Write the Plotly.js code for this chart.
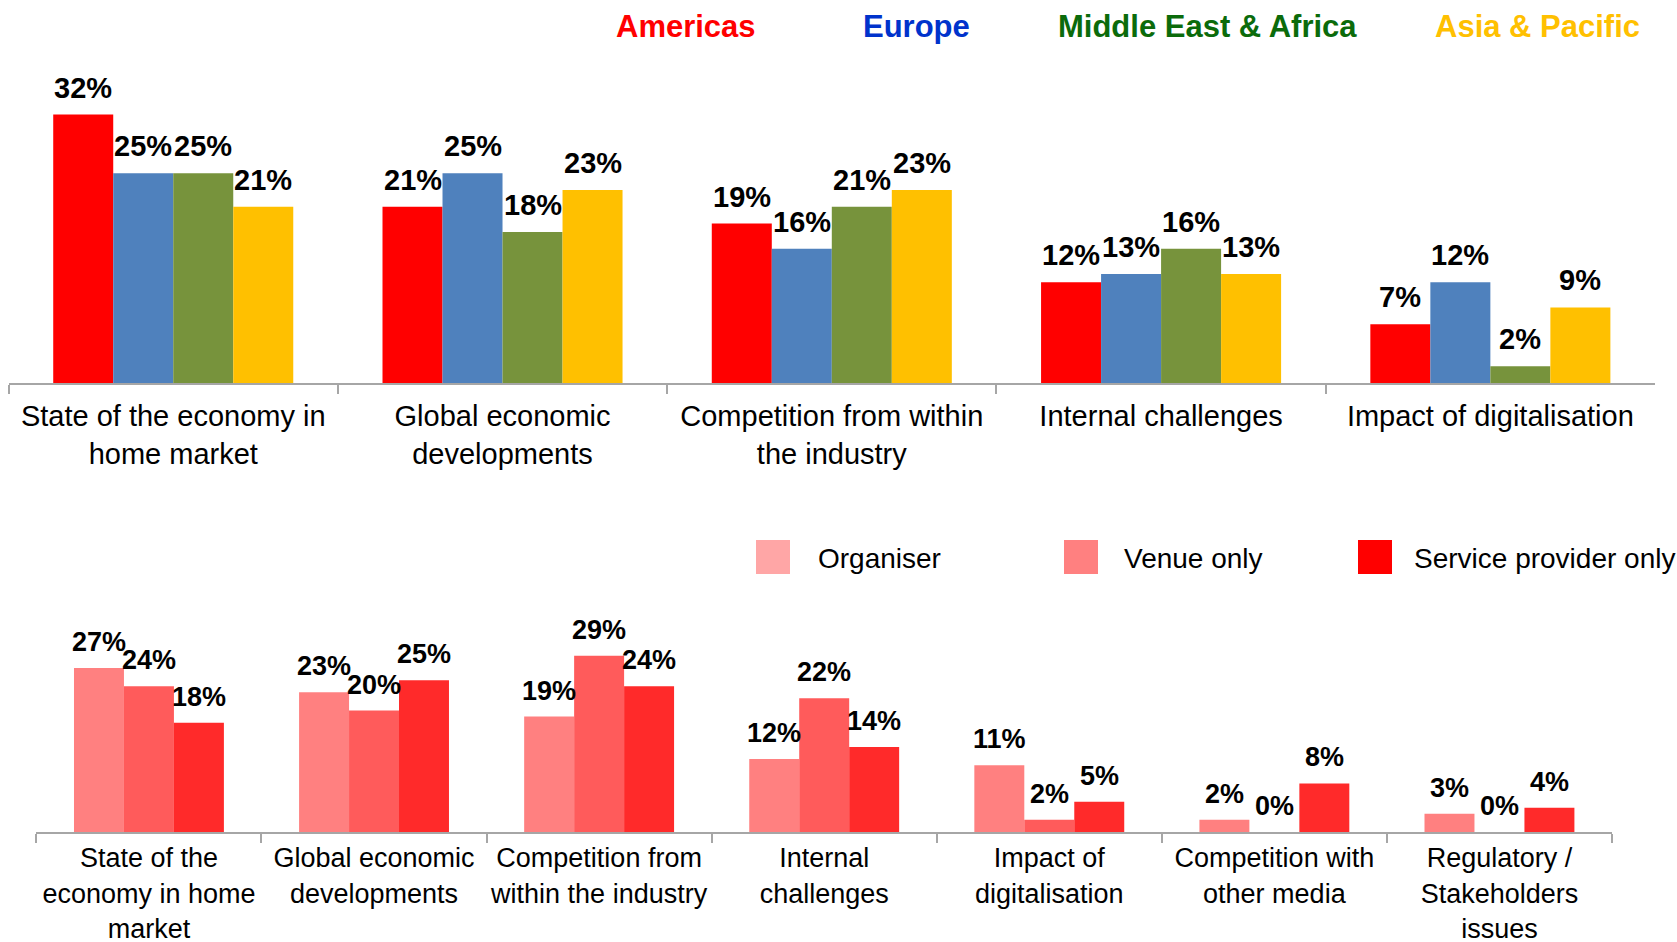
<!DOCTYPE html>
<html>
<head>
<meta charset="utf-8">
<script src="https://cdn.plot.ly/plotly-3.0.1.min.js"></script>
<style>
  html, body { margin: 0; padding: 0; background: #fff; }
  #grafico { width: 1677px; height: 942px; }
</style>
</head>
<body>
<div id="grafico"></div>
<script>
// ---------------------------------------------------------------------
// DATOS
// ---------------------------------------------------------------------
const categoriasRegion = [
  "State of the economy in<br>home market",
  "Global economic<br>developments",
  "Competition from within<br>the industry",
  "Internal challenges",
  "Impact of digitalisation",
];
const regiones = ["Americas", "Europe", "Middle East & Africa", "Asia & Pacific"];
const americas = [32, 21, 19, 12, 7];
const europa = [25, 25, 16, 13, 12];
const orienteMedio = [25, 18, 21, 16, 2];
const asiaPacifico = [21, 23, 23, 13, 9];

const categoriasTipo = [
  "State of the<br>economy in home<br>market",
  "Global economic<br>developments",
  "Competition from<br>within the industry",
  "Internal<br>challenges",
  "Impact of<br>digitalisation",
  "Competition with<br>other media",
  "Regulatory /<br>Stakeholders<br>issues",
];
const tipos = ["Organiser", "Venue only", "Service provider only"];
const organizador = [27, 23, 19, 12, 11, 2, 3];
const recinto = [24, 20, 29, 22, 2, 0, 0];
const proveedor = [18, 25, 24, 14, 5, 8, 4];

// ---------------------------------------------------------------------
// ESTILO
// ---------------------------------------------------------------------
const ANCHO = 1677, ALTO = 942;
const FUENTE = "Liberation Sans, Arial, sans-serif";
const coloresRegion = ["#FF0000", "#4F81BD", "#77933C", "#FFC000"];
const coloresTituloRegion = ["#FF0000", "#0033CC", "#0B6B0B", "#FFC000"];
const coloresTipo = ["#FF8080", "#FF5B5B", "#FF2A2A"];
const coloresLeyendaTipo = ["#FFA6A6", "#FF8080", "#FF0000"];
const GRIS = "#A6A6A6";

// fraccion de cada categoria ocupada por el grupo de barras
const grupoArriba = 0.729;
const grupoAbajo = 0.666;

function trazasAgrupadas(categorias, series, colores, fraccion, ejeX, ejeY) {
  const ancho = fraccion / series.length;
  return series.map((valores, i) => ({
    type: "bar",
    x: categorias,
    y: valores,
    xaxis: ejeX,
    yaxis: ejeY,
    width: ancho,
    offset: -fraccion / 2 + i * ancho,
    marker: { color: colores[i], line: { width: 0 } },
    showlegend: false,
    hoverinfo: "skip",
  }));
}

function etiquetasValores(series, fraccion, refX, refY, tam) {
  const ancho = fraccion / series.length;
  const notas = [];
  series.forEach((valores, i) => {
    valores.forEach((v, j) => {
      notas.push({
        xref: refX, yref: refY,
        x: j - fraccion / 2 + (i + 0.5) * ancho,
        y: v,
        text: v + "%",
        showarrow: false,
        yanchor: "bottom",
        yshift: 9,
        font: { family: FUENTE, size: tam, color: "#000", weight: "bold" },
      });
    });
  });
  return notas;
}

const seriesRegion = [americas, europa, orienteMedio, asiaPacifico];
const seriesTipo = [organizador, recinto, proveedor];

const trazas = [
  ...trazasAgrupadas(categoriasRegion, seriesRegion, coloresRegion, grupoArriba, "x", "y"),
  ...trazasAgrupadas(categoriasTipo, seriesTipo, coloresTipo, grupoAbajo, "x2", "y2"),
];

// titulos de region (leyenda superior, solo texto)
const posTitulos = [686, 916, 1207, 1537];
const titulos = regiones.map((r, i) => ({
  xref: "paper", yref: "paper",
  x: posTitulos[i] / ANCHO, y: 1 - 27 / ALTO,
  text: r, showarrow: false,
  xanchor: "center", yanchor: "middle",
  font: { family: FUENTE, size: 31, color: coloresTituloRegion[i], weight: "bold" },
}));

// leyenda inferior: cuadro de color + texto
const posCuadro = [756, 1064, 1358];
const posTexto = [816, 1122, 1412];
const cuadros = tipos.map((t, i) => ({
  type: "rect", xref: "paper", yref: "paper",
  x0: posCuadro[i] / ANCHO, x1: (posCuadro[i] + 34) / ANCHO,
  y0: 1 - 574 / ALTO, y1: 1 - 540 / ALTO,
  fillcolor: coloresLeyendaTipo[i], line: { width: 0 },
}));
const textosLeyenda = tipos.map((t, i) => ({
  xref: "paper", yref: "paper",
  x: posTexto[i] / ANCHO, y: 1 - 558 / ALTO,
  text: t, showarrow: false,
  xanchor: "left", yanchor: "middle",
  font: { family: FUENTE, size: 28, color: "#000" },
}));

const ejeX = (dominio, tam, separacion) => ({
  domain: dominio,
  type: "category",
  showline: true, linecolor: GRIS, linewidth: 2,
  ticks: "outside", tickson: "boundaries", ticklen: 9, tickwidth: 2, tickcolor: GRIS,
  tickangle: 0, ticklabelstandoff: separacion,
  tickfont: { family: FUENTE, size: tam, color: "#000" },
  showgrid: false, zeroline: false, fixedrange: true,
});
const ejeY = (dominio) => ({
  domain: dominio, range: [0, 40], visible: false, fixedrange: true,
});

const layout = {
  width: ANCHO, height: ALTO,
  margin: { l: 0, r: 0, t: 0, b: 0 },
  paper_bgcolor: "#fff", plot_bgcolor: "#fff",
  showlegend: false,
  xaxis: Object.assign(ejeX([8.6 / ANCHO, 1655 / ANCHO], 29, 6), { anchor: "y" }),
  yaxis: Object.assign(ejeY([1 - 383 / ALTO, 1 - 47.4 / ALTO]), { anchor: "x" }),
  xaxis2: Object.assign(ejeX([36.4 / ANCHO, 1612 / ANCHO], 27, 1), { anchor: "y2" }),
  yaxis2: Object.assign(ejeY([1 - 832 / ALTO, 1 - 589 / ALTO]), { anchor: "x2" }),
  shapes: cuadros,
  annotations: [
    ...titulos,
    ...textosLeyenda,
    ...etiquetasValores(seriesRegion, grupoArriba, "x", "y", 29),
    ...etiquetasValores(seriesTipo, grupoAbajo, "x2", "y2", 27),
  ],
};

Plotly.newPlot("grafico", trazas, layout, { staticPlot: true });
</script>
</body>
</html>
